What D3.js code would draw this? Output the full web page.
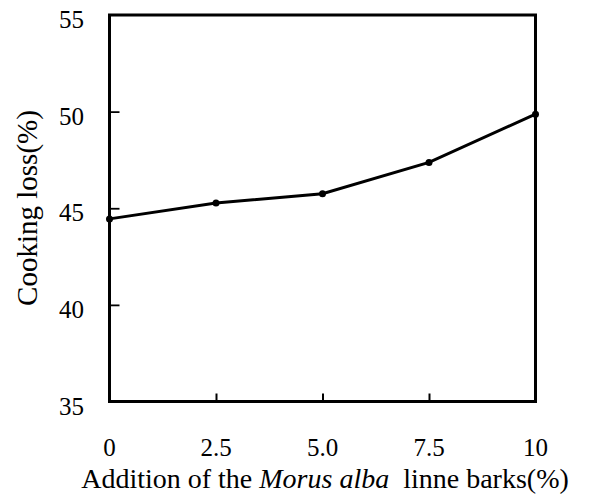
<!DOCTYPE html>
<html>
<head>
<meta charset="utf-8">
<script src="https://cdn.jsdelivr.net/npm/d3@7"></script>
<style>
  html, body { margin: 0; padding: 0; background: #fff; }
  svg { display: block; }
  text { font-family: "Liberation Serif", "Times New Roman", serif; fill: #000; }
</style>
</head>
<body>
<svg id="chart" width="593" height="495"></svg>
<script>
const additionLevels = [0, 2.5, 5.0, 7.5, 10];
const cookingLoss = [44.45, 45.27, 45.75, 47.37, 49.87];
const xTickValues = [0, 2.5, 5.0, 7.5, 10];
const xTickLabels = ["0", "2.5", "5.0", "7.5", "10"];
const yTickValues = [35, 40, 45, 50, 55];
const yTickLabels = ["35", "40", "45", "50", "55"];

const svg = d3.select("#chart");
const margin = { left: 109.5, right: 593 - 535.5, top: 15, bottom: 495 - 401.5 };
const W = 593, H = 495;

const x = d3.scaleLinear().domain([0, 10]).range([margin.left, W - margin.right]);
const y = d3.scaleLinear().domain([35, 55]).range([H - margin.bottom, margin.top]);

// inward ticks
const xAxis = d3.axisBottom(x).tickValues(xTickValues.slice(1, -1)).tickSize(-8).tickFormat("");
const gx = svg.append("g").attr("transform", `translate(0,${y(35)})`).call(xAxis);
gx.select(".domain").remove();
gx.selectAll(".tick line").attr("stroke", "#000").attr("stroke-width", 2);

const yAxis = d3.axisLeft(y).tickValues(yTickValues.slice(1, -1)).tickSize(-10).tickFormat("");
const gy = svg.append("g").attr("transform", `translate(${x(0)},0)`).call(yAxis);
gy.select(".domain").remove();
gy.selectAll(".tick line").attr("stroke", "#000").attr("stroke-width", 1.8);

// frame
svg.append("rect")
  .attr("x", x(0)).attr("y", y(55))
  .attr("width", x(10) - x(0)).attr("height", y(35) - y(55))
  .attr("fill", "none").attr("stroke", "#000").attr("stroke-width", 3);

// tick labels
svg.append("g").selectAll("text").data(xTickValues).join("text")
  .attr("x", d => x(d)).attr("y", 456)
  .attr("text-anchor", "middle").attr("font-size", 25)
  .text((d, i) => xTickLabels[i]);

svg.append("g").selectAll("text").data(yTickValues).join("text")
  .attr("x", 84).attr("y", d => y(d) + 13)
  .attr("text-anchor", "end").attr("font-size", 25)
  .text((d, i) => yTickLabels[i]);

// axis titles
const xt = svg.append("text").attr("x", 325).attr("y", 488)
  .attr("text-anchor", "middle").attr("font-size", 28);
xt.append("tspan").text("Addition of the ");
xt.append("tspan").attr("font-style", "italic").text("Morus alba");
xt.append("tspan").text("\u00a0 linne barks(%)");

svg.append("text")
  .attr("transform", `translate(37,208) rotate(-90)`)
  .attr("text-anchor", "middle").attr("font-size", 29)
  .text("Cooking loss(%)");

// line
const data = additionLevels.map((d, i) => ({ x: d, y: cookingLoss[i] }));
svg.append("path").datum(data)
  .attr("fill", "none").attr("stroke", "#000").attr("stroke-width", 3)
  .attr("d", d3.line().x(d => x(d.x)).y(d => y(d.y)));

svg.append("g").selectAll("circle").data(data).join("circle")
  .attr("cx", d => x(d.x)).attr("cy", d => y(d.y)).attr("r", 3.5).attr("fill", "#000");
</script>
</body>
</html>
